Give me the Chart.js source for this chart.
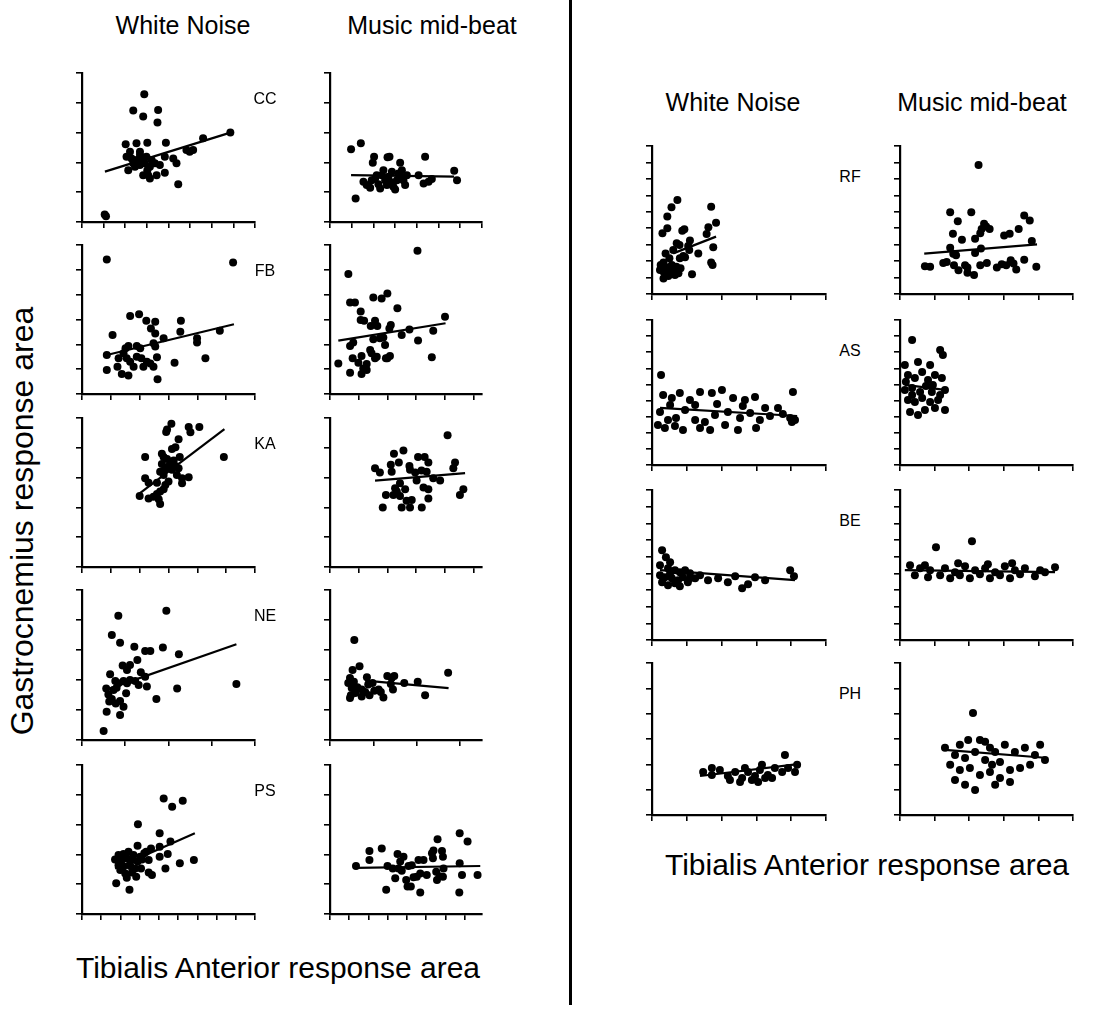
<!DOCTYPE html>
<html>
<head>
<meta charset="utf-8">
<script src="https://cdn.jsdelivr.net/npm/chart.js@4.4.1/dist/chart.umd.min.js"></script>
<style>
  html, body { margin: 0; padding: 0; background: #fff; }
  #page { position: relative; width: 1101px; height: 1009px; overflow: hidden; font-family: "Liberation Sans", Arial, sans-serif; color: #000; }
  #page canvas { position: absolute; }
  .txt { position: absolute; white-space: nowrap; transform: translate(-50%, -50%); }
  .head { font-size: 25px; }
  .tag { font-size: 16px; }
  .axis-title { font-size: 30px; }
  .y-title { font-size: 32px; }
  #divider { position: absolute; left: 569px; top: 0; width: 3px; height: 1005px; background: #000; }
</style>
</head>
<body>
<div id="page">
  <div id="divider"></div>
</div>
<script>
// values are in tick units (one unit = one tick interval on each axis)
const ccNoise = [[1.11,0.19],[1.05,0.25],[2.88,4.29],[2.37,3.74],[2.83,3.54],[3.52,3.76],[3.49,3.34],[2.02,2.61],[2.52,2.64],[3.02,2.66],[3.88,2.66],[2.22,2.36],[2.68,2.36],[2.06,2.19],[2.29,2.13],[2.52,2.08],[2.75,2.13],[2.98,2.19],[3.22,2.08],[2.14,1.74],[2.45,1.85],[2.68,1.91],[2.91,1.97],[3.14,1.85],[3.37,1.97],[2.83,1.57],[3.06,1.57],[3.14,1.46],[3.45,1.57],[3.6,1.91],[3.83,2.19],[3.83,1.65],[4.22,2.13],[4.37,1.97],[4.45,1.27],[4.83,2.42],[4.98,2.36],[5.14,2.42],[5.6,2.81],[6.86,3.0],[2.68,2.25],[2.37,1.97],[3.02,1.74]];
const ccNoiseFit = [[1.06,1.69],[6.86,3.0]];
const ccMusic = [[0.97,2.44],[1.42,2.64],[1.18,0.79],[2.03,2.19],[1.97,1.99],[2.65,2.17],[2.74,2.19],[3.23,1.99],[4.38,2.19],[5.72,1.72],[5.85,1.40],[1.54,1.35],[1.69,1.24],[1.85,1.15],[2.08,1.46],[2.23,1.27],[2.31,1.12],[2.38,1.57],[2.46,1.74],[2.54,1.40],[2.62,1.24],[2.69,1.52],[2.77,1.35],[2.85,1.69],[2.92,1.18],[3.0,1.09],[3.08,1.40],[3.15,1.63],[3.23,1.52],[3.31,1.74],[3.38,1.40],[3.46,1.24],[3.54,1.57],[4.08,1.57],[4.31,1.29],[4.54,1.35],[4.69,1.44],[2.15,1.57],[1.92,1.40]];
const ccMusicFit = [[0.97,1.57],[5.72,1.52]];

const fbNoise = [[0.86,5.42],[5.24,5.30],[1.06,2.38],[1.67,3.14],[1.98,3.21],[2.23,2.95],[2.54,2.91],[2.39,2.64],[2.54,2.44],[3.43,2.95],[3.41,2.51],[2.83,2.24],[3.99,2.24],[3.99,2.07],[4.78,2.55],[4.28,1.44],[3.21,1.26],[2.62,0.59],[0.86,1.57],[0.86,0.97],[1.23,1.10],[1.38,0.81],[1.61,0.74],[1.27,1.44],[1.51,1.84],[1.61,1.93],[1.90,1.93],[2.02,1.84],[1.55,1.44],[1.67,1.30],[1.79,1.10],[1.90,1.50],[2.13,1.10],[2.25,1.30],[2.37,1.23],[2.48,1.10],[2.60,1.48],[2.48,2.04],[2.54,1.91],[2.06,1.44],[1.44,1.64]];
const fbNoiseFit = [[0.86,1.57],[5.27,2.81]];
const fbMusic = [[3.05,5.77],[0.64,4.83],[0.70,3.68],[0.87,3.68],[1.07,3.32],[1.51,3.89],[1.80,3.85],[2.0,4.05],[2.35,3.45],[1.07,2.98],[1.19,2.95],[1.57,2.95],[1.42,2.74],[1.65,2.74],[2.12,2.78],[2.07,2.64],[2.50,2.38],[2.77,2.60],[3.07,2.15],[4.01,3.11],[3.60,2.55],[3.55,1.48],[0.29,1.23],[0.70,0.86],[0.70,1.93],[0.81,2.07],[0.79,1.44],[0.99,1.26],[1.10,1.53],[1.16,1.03],[1.28,1.21],[1.40,1.77],[1.45,1.64],[1.57,1.44],[1.63,1.50],[1.51,2.20],[1.74,2.24],[1.86,2.28],[1.92,1.97],[1.95,1.44],[2.09,1.53],[1.10,0.81],[1.28,0.97],[2.0,1.44]];
const fbMusicFit = [[0.29,2.15],[4.03,2.85]];

const kaNoise = [[3.10,4.81],[2.95,4.61],[2.92,4.53],[3.70,4.70],[3.76,4.52],[4.07,4.70],[3.35,4.29],[3.24,4.02],[3.12,3.96],[4.92,3.69],[2.19,3.69],[2.77,3.80],[2.83,3.69],[2.95,3.62],[3.07,3.51],[3.18,3.57],[3.39,3.69],[2.77,3.46],[2.89,3.31],[3.0,3.37],[2.71,3.20],[2.83,3.09],[3.12,3.26],[3.24,3.39],[3.35,3.31],[3.29,3.09],[3.47,2.98],[3.70,3.01],[2.19,2.98],[2.31,2.83],[2.60,2.83],[3.0,2.87],[2.89,2.75],[3.47,2.81],[2.83,2.61],[2.71,2.53],[2.0,2.38],[2.31,2.30],[2.48,2.36],[2.66,2.27],[2.60,2.45],[2.71,2.11]];
const kaNoiseFit = [[2.0,2.47],[4.94,4.63]];
const kaMusic = [[4.10,4.42],[1.57,3.31],[1.74,3.17],[2.23,3.80],[2.56,3.91],[2.40,3.51],[2.12,3.43],[2.15,3.20],[2.77,3.39],[3.07,3.69],[3.30,3.69],[3.19,3.24],[3.43,3.51],[3.37,3.20],[4.36,3.51],[4.30,3.31],[3.60,2.98],[3.84,2.90],[3.02,2.90],[2.79,3.26],[2.44,2.81],[2.27,2.64],[2.62,2.61],[3.26,2.67],[3.43,2.61],[4.65,2.61],[4.53,2.42],[1.95,2.42],[2.21,2.42],[2.44,2.38],[2.33,2.53],[2.67,2.22],[2.85,2.25],[3.43,2.30],[1.84,2.0],[2.50,2.0],[2.79,2.0],[3.20,2.0],[2.97,3.17]];
const kaMusicFit = [[1.57,2.90],[4.71,3.15]];

const neNoise = [[1.95,4.31],[0.84,4.14],[0.69,3.5],[0.88,3.24],[1.21,3.11],[1.46,2.97],[1.58,2.97],[1.87,3.08],[2.24,2.86],[1.28,2.67],[0.94,2.48],[1.11,2.50],[1.04,2.33],[0.65,2.19],[1.36,2.26],[1.46,2.11],[0.77,1.97],[0.84,1.89],[0.96,1.97],[1.04,1.89],[1.11,2.0],[1.23,1.97],[1.31,1.83],[1.50,1.78],[0.56,1.72],[0.73,1.67],[0.80,1.74],[0.61,1.52],[0.69,1.37],[0.63,1.28],[0.78,1.22],[0.88,1.30],[0.96,1.11],[1.02,1.56],[0.57,0.94],[0.88,0.83],[0.50,0.30],[1.72,1.37],[2.20,1.72],[3.57,1.87]];
const neNoiseFit = [[0.65,1.72],[3.57,3.19]];
const neMusic = [[0.56,3.33],[0.68,2.46],[0.52,2.33],[0.42,1.90],[0.46,2.07],[0.5,1.73],[0.48,1.49],[0.46,1.40],[0.58,1.57],[0.63,1.76],[0.73,1.68],[0.85,2.09],[0.88,1.85],[0.81,1.60],[0.91,1.49],[0.98,1.90],[1.12,1.68],[1.17,1.60],[1.23,1.42],[1.02,1.64],[1.32,2.13],[1.42,2.07],[1.48,2.13],[1.40,1.87],[1.45,1.68],[1.71,1.90],[2.02,1.94],[2.19,1.49],[2.72,2.24],[0.55,1.94],[0.73,1.45]];
const neMusicFit = [[0.81,1.98],[2.73,1.73]];

const psNoise = [[4.25,3.88],[4.69,3.60],[5.24,3.80],[2.91,3.01],[4.04,2.71],[4.60,2.43],[2.89,2.29],[3.59,2.20],[3.34,2.09],[4.04,2.26],[1.72,1.83],[1.90,1.98],[2.16,2.01],[2.42,2.09],[2.68,1.98],[3.03,1.92],[3.24,2.04],[3.47,1.81],[2.07,1.81],[2.33,1.87],[2.60,1.81],[2.89,1.76],[3.12,1.83],[1.90,1.64],[2.16,1.59],[2.51,1.61],[2.77,1.53],[3.07,1.53],[1.99,1.48],[2.25,1.36],[2.60,1.39],[2.82,1.25],[2.33,1.22],[3.47,1.39],[3.64,1.31],[4.04,1.92],[4.46,2.01],[4.34,1.53],[5.09,1.70],[5.82,1.81],[1.78,1.03],[2.47,0.81]];
const psNoiseFit = [[1.72,1.53],[5.87,2.71]];
const psMusic = [[1.35,1.61],[2.05,2.11],[2.05,1.81],[2.69,2.20],[2.92,0.81],[2.99,1.61],[3.39,1.20],[3.51,2.01],[3.82,1.92],[3.65,1.76],[3.26,1.53],[3.56,1.53],[3.73,1.45],[4.08,1.61],[4.25,1.64],[3.96,1.14],[4.03,0.92],[4.20,0.92],[4.34,1.23],[4.51,1.25],[4.69,1.36],[4.60,1.81],[4.86,1.81],[5.03,1.31],[4.69,0.72],[5.30,2.04],[5.35,1.87],[5.38,2.13],[5.59,2.51],[5.82,2.11],[5.87,1.92],[5.52,1.42],[5.69,1.27],[5.56,1.14],[5.87,1.25],[5.90,1.53],[6.74,2.71],[7.15,2.43],[6.74,1.70],[6.86,1.31],[6.72,0.72],[7.67,1.31]];
const psMusicFit = [[1.35,1.55],[7.81,1.61]];

const rfNoise = [[0.73,5.72],[0.56,5.27],[0.44,4.71],[0.44,4.0],[0.30,3.69],[0.87,3.85],[0.93,3.94],[1.70,5.31],[1.84,4.34],[1.62,4.06],[1.57,3.65],[1.76,2.84],[1.70,1.91],[1.74,1.76],[1.09,3.25],[1.04,2.92],[0.71,3.08],[0.79,2.98],[0.61,2.68],[1.33,2.47],[1.07,2.68],[0.95,2.23],[0.90,2.31],[0.80,2.17],[0.39,2.47],[0.50,2.17],[0.25,1.76],[0.33,1.91],[0.42,1.62],[0.57,1.76],[0.70,1.66],[0.82,1.56],[0.33,1.36],[0.50,1.26],[0.61,1.50],[0.33,0.95],[0.47,1.10],[0.66,1.16],[0.76,1.26],[1.15,1.20],[0.23,1.46]];
const rfNoiseFit = [[0.61,2.47],[1.84,3.49]];
const rfMusic = [[2.27,7.85],[1.45,4.97],[2.06,4.97],[1.67,4.43],[3.59,4.77],[3.75,4.47],[2.43,4.27],[2.49,4.10],[2.36,3.96],[2.59,3.96],[2.32,3.70],[1.53,3.66],[1.79,3.30],[2.17,3.36],[3.01,3.56],[3.17,3.66],[3.43,3.96],[3.81,3.22],[1.45,2.82],[1.54,2.45],[1.62,2.35],[2.34,2.76],[2.17,2.49],[0.72,1.69],[0.87,1.65],[1.25,1.89],[1.35,1.95],[1.56,1.75],[1.69,1.45],[1.88,1.75],[1.95,1.61],[1.95,1.29],[2.14,1.15],[2.32,1.75],[2.51,1.89],[2.80,1.61],[2.94,1.81],[3.07,1.75],[3.20,2.05],[3.28,1.85],[3.36,1.49],[3.59,2.09],[3.94,1.65]];
const rfMusicFit = [[0.70,2.45],[3.96,3.02]];

const asNoise = [[0.26,5.59],[0.32,4.35],[0.57,4.16],[0.80,4.47],[1.09,4.04],[1.38,4.53],[1.72,4.47],[2.01,4.66],[2.33,4.16],[2.67,4.04],[2.96,4.22],[3.25,3.54],[3.62,3.54],[4.05,4.53],[0.23,3.29],[0.46,2.80],[0.69,2.92],[0.95,3.42],[1.24,2.80],[1.52,2.67],[1.81,3.11],[2.18,3.29],[2.53,2.92],[2.82,3.23],[3.10,2.80],[3.39,3.04],[3.76,3.17],[4.02,2.67],[4.11,2.80],[0.17,2.48],[0.37,2.30],[0.66,2.42],[0.89,2.17],[1.38,2.30],[1.67,2.17],[2.10,2.48],[2.47,2.17],[2.99,2.30],[3.97,2.92],[0.52,3.73],[1.24,3.73],[1.87,3.79],[2.61,3.66]];
const asNoiseFit = [[0.23,3.54],[4.17,3.04]];
const asMusic = [[0.35,7.76],[0.14,6.21],[0.52,6.40],[0.87,6.21],[1.16,7.14],[1.24,6.83],[0.23,5.59],[0.43,5.40],[0.64,5.78],[0.81,5.28],[1.01,5.59],[1.21,5.40],[0.14,4.66],[0.35,4.78],[0.58,4.53],[0.75,4.91],[0.92,4.53],[1.16,4.35],[1.30,4.66],[0.23,4.04],[0.43,3.91],[0.64,4.16],[0.87,3.91],[1.10,4.04],[1.30,3.42],[0.29,3.29],[0.52,3.11],[0.72,3.42],[1.01,3.54],[0.17,5.16],[0.95,4.97],[0.35,4.35]];
const asMusicFit = [[0.14,4.97],[1.30,4.66]];

const beNoise = [[0.29,5.39],[0.40,4.97],[0.52,4.67],[0.23,4.49],[0.46,4.31],[0.66,4.19],[0.80,4.07],[0.95,4.19],[1.09,4.01],[0.23,3.89],[0.37,3.77],[0.57,3.71],[0.75,3.59],[0.89,3.77],[1.03,3.47],[1.24,3.71],[0.29,3.47],[0.46,3.29],[0.66,3.41],[0.80,3.23],[1.38,3.89],[1.61,3.59],[1.90,3.71],[2.18,3.47],[2.39,3.83],[2.59,3.11],[2.76,3.35],[2.96,3.77],[3.25,3.59],[3.97,4.19],[4.08,3.83],[0.52,4.01],[1.09,3.71]];
const beNoiseFit = [[0.23,4.19],[4.11,3.59]];
const beMusic = [[1.04,5.57],[2.08,5.93],[0.29,4.49],[0.58,4.31],[0.87,4.19],[1.30,4.31],[1.59,4.07],[1.88,4.43],[2.17,4.19],[2.46,4.31],[2.75,4.07],[3.03,4.43],[3.32,4.19],[3.61,4.31],[4.05,4.19],[4.48,4.37],[0.43,3.89],[0.81,3.77],[1.16,3.89],[1.45,3.71],[1.73,3.89],[2.02,3.71],[2.31,3.95],[2.60,3.71],[2.89,3.89],[3.18,3.71],[3.47,3.95],[3.90,3.83],[4.19,4.07],[0.72,4.49],[1.68,4.61],[2.54,4.55],[3.24,4.61]];
const beMusicFit = [[0.14,4.19],[4.48,4.07]];

const phNoise = [[1.47,1.70],[1.72,1.58],[1.95,1.78],[2.18,1.54],[2.39,1.70],[2.59,1.46],[2.76,1.70],[2.96,1.54],[3.10,1.78],[3.33,1.58],[3.53,1.86],[3.74,1.70],[3.91,1.86],[4.17,1.98],[3.82,2.37],[3.16,1.98],[2.24,1.38],[2.53,1.30],[2.87,1.38],[3.25,1.46],[1.72,1.86],[2.67,1.86],[3.05,1.30],[3.45,1.46],[4.11,1.70]];
const phNoiseFit = [[1.38,1.54],[4.25,2.02]];
const phMusic = [[2.11,4.03],[2.60,2.65],[2.75,2.49],[2.31,2.96],[2.89,2.09],[1.73,2.77],[1.30,2.65],[1.59,2.37],[1.88,2.25],[2.17,2.49],[2.46,2.17],[3.03,2.77],[3.32,2.49],[3.61,2.65],[3.90,2.37],[4.19,2.17],[1.45,1.98],[1.73,1.78],[2.02,1.86],[2.31,1.58],[2.60,1.70],[2.89,1.46],[3.18,1.78],[3.47,1.86],[3.76,1.98],[1.59,1.38],[1.88,1.19],[2.17,0.99],[2.75,1.19],[3.18,1.30],[2.46,2.89],[2.66,1.98],[1.97,2.96],[4.05,2.77]];
const phMusicFit = [[1.30,2.57],[4.28,2.25]];

// axis length in tick intervals
const xTicks = { cc: [8, 7], fb: [6, 5.3], ka: [6, 5.3], ne: [4, 3.5], ps: [9, 7.9], rf: [5, 5], as: [5, 5], be: [5, 5], ph: [5, 5] };
const yTicks = { cc: 5, fb: 6, ka: 5, ne: 5, ps: 5, rf: 9, as: 9, be: 9, ph: 6 };

const conditions = ['White Noise', 'Music mid-beat'];
const subjectsLeft = ['CC', 'FB', 'KA', 'NE', 'PS'];
const subjectsRight = ['RF', 'AS', 'BE', 'PH'];

// layout: axis boxes in page pixels
const leftCols = [[82, 255], [330, 482]];
const rightCols = [[652, 826], [900, 1073]];
const leftRows = [[73, 222], [245, 394], [418, 567], [590, 740], [765, 914]];
const rightRows = [[146, 294], [320, 465], [490, 640], [663, 815]];

const series = {
    cc: [[ccNoise, ccNoiseFit], [ccMusic, ccMusicFit]],
    fb: [[fbNoise, fbNoiseFit], [fbMusic, fbMusicFit]],
    ka: [[kaNoise, kaNoiseFit], [kaMusic, kaMusicFit]],
    ne: [[neNoise, neNoiseFit], [neMusic, neMusicFit]],
    ps: [[psNoise, psNoiseFit], [psMusic, psMusicFit]],
    rf: [[rfNoise, rfNoiseFit], [rfMusic, rfMusicFit]],
    as: [[asNoise, asNoiseFit], [asMusic, asMusicFit]],
    be: [[beNoise, beNoiseFit], [beMusic, beMusicFit]],
    ph: [[phNoise, phNoiseFit], [phMusic, phMusicFit]]
};

const page = document.getElementById('page');
const PAD_L = 10, PAD_T = 5, PAD_R = 6, PAD_B = 10;

function axisOpts(max, isX) {
    return {
        type: 'linear',
        min: 0,
        max: max,
        afterFit: s => { if (isX) s.height = 8; else s.width = 8; },
        ticks: { display: false, stepSize: 1, includeBounds: false },
        grid: { drawOnChartArea: false, drawTicks: true, tickLength: 6, color: '#000', lineWidth: 1.6 },
        border: { display: true, color: '#000', width: 2.2 }
    };
}

function makePanel(box, xMax, yMax, pts, fit) {
    const [x0, y0, x1, y1] = box;
    const cv = document.createElement('canvas');
    const w = x1 - x0 + PAD_L + PAD_R;
    const h = y1 - y0 + PAD_T + PAD_B;
    cv.width = w; cv.height = h;
    cv.style.left = (x0 - PAD_L) + 'px';
    cv.style.top = (y0 - PAD_T) + 'px';
    cv.style.width = w + 'px';
    cv.style.height = h + 'px';
    page.appendChild(cv);

    new Chart(cv.getContext('2d'), {
        type: 'scatter',
        data: {
            datasets: [
                {
                    data: pts.map(p => ({ x: p[0], y: p[1] })),
                    pointRadius: 4,
                    pointBackgroundColor: '#000',
                    pointBorderWidth: 0,
                    clip: false
                },
                {
                    type: 'line',
                    data: fit.map(p => ({ x: p[0], y: p[1] })),
                    borderColor: '#000',
                    borderWidth: 2.2,
                    pointRadius: 0,
                    clip: false
                }
            ]
        },
        options: {
            responsive: false,
            animation: false,
            devicePixelRatio: 1,
            layout: { autoPadding: false, padding: { top: PAD_T, right: PAD_R, left: 2, bottom: 2 } },
            plugins: { legend: { display: false }, tooltip: { enabled: false } },
            scales: { x: axisOpts(xMax, true), y: axisOpts(yMax, false) }
        }
    });
}

function addText(text, x, y, cls, rotate) {
    const d = document.createElement('div');
    d.className = 'txt ' + cls;
    d.textContent = text;
    d.style.left = x + 'px';
    d.style.top = y + 'px';
    if (rotate) d.style.transform = 'translate(-50%, -50%) rotate(-90deg)';
    page.appendChild(d);
}

subjectsLeft.forEach((s, r) => {
    const key = s.toLowerCase();
    leftCols.forEach((c, k) => {
        const [pts, fit] = series[key][k];
        makePanel([c[0], leftRows[r][0], c[1], leftRows[r][1]], xTicks[key][k], yTicks[key], pts, fit);
    });
    addText(s, 265, leftRows[r][0] + 26, 'tag');
});

subjectsRight.forEach((s, r) => {
    const key = s.toLowerCase();
    rightCols.forEach((c, k) => {
        const [pts, fit] = series[key][k];
        makePanel([c[0], rightRows[r][0], c[1], rightRows[r][1]], xTicks[key][k], yTicks[key], pts, fit);
    });
    addText(s, 850, rightRows[r][0] + 31, 'tag');
});

addText(conditions[0], 183, 25, 'head');
addText(conditions[1], 432, 25, 'head');
addText(conditions[0], 733, 102, 'head');
addText(conditions[1], 982, 102, 'head');
addText('Gastrocnemius response area', 22, 521, 'y-title', true);
addText('Tibialis Anterior response area', 278, 968, 'axis-title');
addText('Tibialis Anterior response area', 867, 865, 'axis-title');
</script>
</body>
</html>
